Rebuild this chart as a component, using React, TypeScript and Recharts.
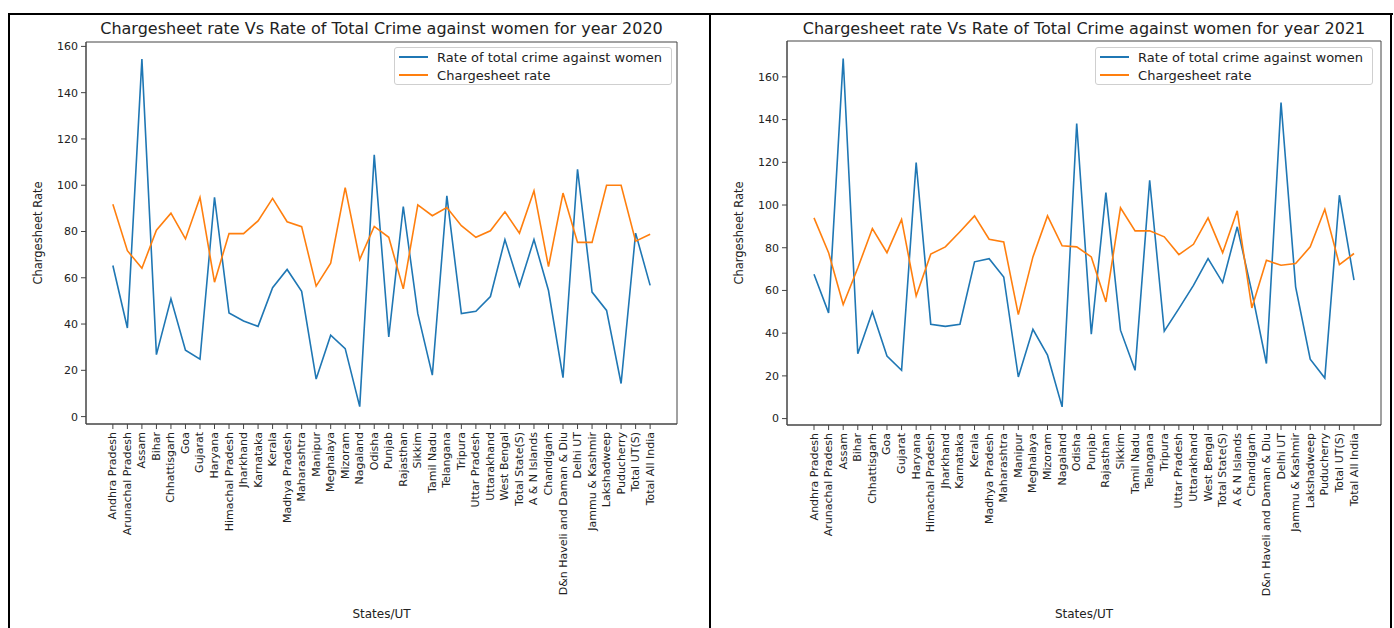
import React from 'react';
import { LineChart, Line, XAxis, YAxis, Legend, ReferenceArea } from 'recharts';

// States / UTs on the x axis (same order for both years)
const states = [
  'Andhra Pradesh', 'Arunachal Pradesh', 'Assam', 'Bihar', 'Chhattisgarh', 'Goa', 'Gujarat',
  'Haryana', 'Himachal Pradesh', 'Jharkhand', 'Karnataka', 'Kerala', 'Madhya Pradesh',
  'Maharashtra', 'Manipur', 'Meghalaya', 'Mizoram', 'Nagaland', 'Odisha', 'Punjab',
  'Rajasthan', 'Sikkim', 'Tamil Nadu', 'Telangana', 'Tripura', 'Uttar Pradesh', 'Uttarakhand',
  'West Bengal', 'Total State(S)', 'A & N Islands', 'Chandigarh', 'D&n Haveli and Daman & Diu',
  'Delhi UT', 'Jammu & Kashmir', 'Lakshadweep', 'Puducherry', 'Total UT(S)', 'Total All India',
];

// 2020
const crimeRate2020 = [
  65.3, 38.3, 154.5, 26.8, 50.9, 28.7, 24.8, 94.8, 44.8, 41.3, 39.0, 55.7, 63.6, 54.1, 16.2,
  35.2, 29.4, 4.3, 113.1, 34.4, 90.8, 44.5, 17.9, 95.4, 44.5, 45.5, 51.9, 76.5, 56.4, 76.5,
  54.5, 16.8, 106.9, 53.8, 45.9, 14.3, 79.3, 56.7,
];
const chargesheetRate2020 = [
  91.8, 71.7, 64.1, 80.6, 87.9, 76.8, 94.7, 58.1, 79.1, 79.1, 84.6, 94.3, 84.2, 82.1, 56.4,
  66.3, 99.0, 67.9, 82.2, 77.5, 55.2, 91.5, 86.8, 90.4, 82.5, 77.5, 80.3, 88.5, 79.3, 97.6,
  64.8, 96.6, 75.3, 75.3, 100.0, 100.0, 75.8, 78.8,
];

// 2021
const crimeRate2021 = [
  67.6, 49.5, 168.6, 30.4, 50.0, 29.3, 22.6, 119.9, 44.2, 43.2, 44.2, 73.4, 74.9, 66.3, 19.5,
  41.8, 29.7, 5.5, 138.2, 39.5, 105.8, 41.4, 22.6, 111.6, 40.9, 51.5, 62.4, 74.9, 63.7, 89.8,
  59.3, 25.8, 148.0, 61.7, 27.8, 19.0, 104.6, 64.8,
];
const chargesheetRate2021 = [
  94.0, 77.7, 53.4, 70.5, 89.0, 77.7, 93.3, 57.4, 77.0, 80.4, 87.5, 94.9, 84.0, 82.7, 48.7,
  75.7, 94.9, 80.9, 80.4, 75.7, 54.6, 98.7, 87.9, 87.9, 85.1, 76.8, 81.6, 94.0, 77.7, 97.3,
  51.8, 74.1, 71.8, 72.6, 80.4, 98.0, 72.1, 77.3,
];

const yTicks = [0, 20, 40, 60, 80, 100, 120, 140, 160];
const seriesLabels = ['Rate of total crime against women', 'Chargesheet rate'];

const BLUE = '#1f77b4';
const ORANGE = '#ff7f0e';
const FONT = '"DejaVu Sans", sans-serif';
const TEXT = '#222';
const SPINE = '#444';

const stateIndex = states.map((_, i) => i);
const X_PAD = 1.85;
const xDomain: [number, number] = [-X_PAD, states.length - 1 + X_PAD];

const StateTick = (props: any) => {
  const { x, y, payload } = props;
  return (
    <text
      x={x}
      y={y}
      transform={`rotate(-90, ${x}, ${y})`}
      textAnchor="end"
      dominantBaseline="central"
      fontSize={11}
      fontFamily={FONT}
      fill={TEXT}
    >
      {states[payload.value]}
    </text>
  );
};

const LegendBox = () => (
  <div
    style={{
      border: '1px solid #cfcfcf',
      borderRadius: 3,
      background: 'rgba(255,255,255,0.85)',
      padding: '0 9px 0 4px',
      fontFamily: FONT,
      fontSize: 13,
      color: TEXT,
      whiteSpace: 'nowrap',
    }}
  >
    {seriesLabels.map((label, i) => (
      <div key={label} style={{ display: 'flex', alignItems: 'center', height: 18 }}>
        <span
          style={{
            display: 'inline-block',
            width: 29,
            height: 2,
            background: i === 0 ? BLUE : ORANGE,
            marginRight: 9,
          }}
        />
        {label}
      </div>
    ))}
  </div>
);

type PanelProps = {
  title: string;
  crime: number[];
  charge: number[];
  yDomain: [number, number];
  left: number;
  width: number;
  plotLeft: number;
  plotRight: number;
  plotTop: number;
  plotBottom: number;
  legendRight: number;
};

const Y_AXIS_W = 50;
const X_AXIS_H = 180;
const HEIGHT = 628;

function Panel(p: PanelProps) {
  const data = states.map((s, i) => ({ idx: i, state: s, crime: p.crime[i], charge: p.charge[i] }));
  const margin = {
    top: p.plotTop,
    right: p.width - p.plotRight,
    bottom: HEIGHT - p.plotBottom - X_AXIS_H,
    left: p.plotLeft - Y_AXIS_W,
  };
  const cx = (p.plotLeft + p.plotRight) / 2;
  const cy = (p.plotTop + p.plotBottom) / 2;
  return (
    <div style={{ position: 'absolute', left: p.left, top: 0, width: p.width, height: HEIGHT }}>
      <LineChart width={p.width} height={HEIGHT} data={data} margin={margin}>
        <XAxis
          dataKey="idx"
          type="number"
          domain={xDomain}
          ticks={stateIndex}
          interval={0}
          height={X_AXIS_H}
          tick={<StateTick />}
          tickSize={5}
          tickMargin={3}
          stroke={SPINE}
          allowDataOverflow
        />
        <YAxis
          type="number"
          domain={p.yDomain}
          ticks={yTicks}
          width={Y_AXIS_W}
          tickSize={5}
          tickMargin={3}
          stroke={SPINE}
          tick={{ fontSize: 11, fontFamily: FONT, fill: TEXT }}
          allowDataOverflow
        />
        {/* axes frame (top and right spines) */}
        <ReferenceArea
          x1={xDomain[0]}
          x2={xDomain[1]}
          y1={p.yDomain[0]}
          y2={p.yDomain[1]}
          fill="none"
          fillOpacity={0}
          stroke={SPINE}
          strokeWidth={1}
          ifOverflow="visible"
        />
        <Legend
          layout="horizontal"
          verticalAlign="middle"
          align="center"
          content={<LegendBox />}
          wrapperStyle={{ top: 47, right: p.width - p.legendRight, left: 'auto', width: 'auto' }}
        />
        <Line
          type="linear"
          dataKey="crime"
          name={seriesLabels[0]}
          stroke={BLUE}
          strokeWidth={1.6}
          dot={false}
          isAnimationActive={false}
        />
        <Line
          type="linear"
          dataKey="charge"
          name={seriesLabels[1]}
          stroke={ORANGE}
          strokeWidth={1.6}
          dot={false}
          isAnimationActive={false}
        />
      </LineChart>
      <div
        style={{
          position: 'absolute',
          left: cx,
          top: 28,
          transform: 'translate(-50%, -50%)',
          fontFamily: FONT,
          fontSize: 16,
          color: TEXT,
          whiteSpace: 'nowrap',
        }}
      >
        {p.title}
      </div>
      <div
        style={{
          position: 'absolute',
          left: p.plotLeft - 48,
          top: cy,
          transform: 'translate(-50%, -50%) rotate(-90deg)',
          fontFamily: FONT,
          fontSize: 11.5,
          color: TEXT,
          whiteSpace: 'nowrap',
        }}
      >
        Chargesheet Rate
      </div>
      <div
        style={{
          position: 'absolute',
          left: cx,
          top: 614,
          transform: 'translate(-50%, -50%)',
          fontFamily: FONT,
          fontSize: 12,
          color: TEXT,
          whiteSpace: 'nowrap',
        }}
      >
        States/UT
      </div>
    </div>
  );
}

const frameLine = (style: React.CSSProperties) => (
  <div style={{ position: 'absolute', background: '#000', ...style }} />
);

export default function App() {
  return (
    <div style={{ position: 'absolute', left: 0, top: 0, width: 1394, height: 628, background: '#fff', overflow: 'hidden' }}>
      <Panel
        title="Chargesheet rate Vs Rate of Total Crime against women for year 2020"
        crime={crimeRate2020}
        charge={chargesheetRate2020}
        yDomain={[-3.2, 161.9]}
        left={0}
        width={705}
        plotLeft={86}
        plotRight={677}
        plotTop={42}
        plotBottom={424}
        legendRight={672}
      />
      <Panel
        title="Chargesheet rate Vs Rate of Total Crime against women for year 2021"
        crime={crimeRate2021}
        charge={chargesheetRate2021}
        yDomain={[-3.0, 176.8]}
        left={712}
        width={682}
        plotLeft={75}
        plotRight={669}
        plotTop={41}
        plotBottom={425}
        legendRight={661}
      />
      {frameLine({ left: 8, top: 13, width: 1385, height: 2 })}
      {frameLine({ left: 8, top: 13, width: 2, height: 615 })}
      {frameLine({ left: 709, top: 13, width: 2, height: 615 })}
      {frameLine({ left: 1390, top: 13, width: 2, height: 615 })}
    </div>
  );
}
